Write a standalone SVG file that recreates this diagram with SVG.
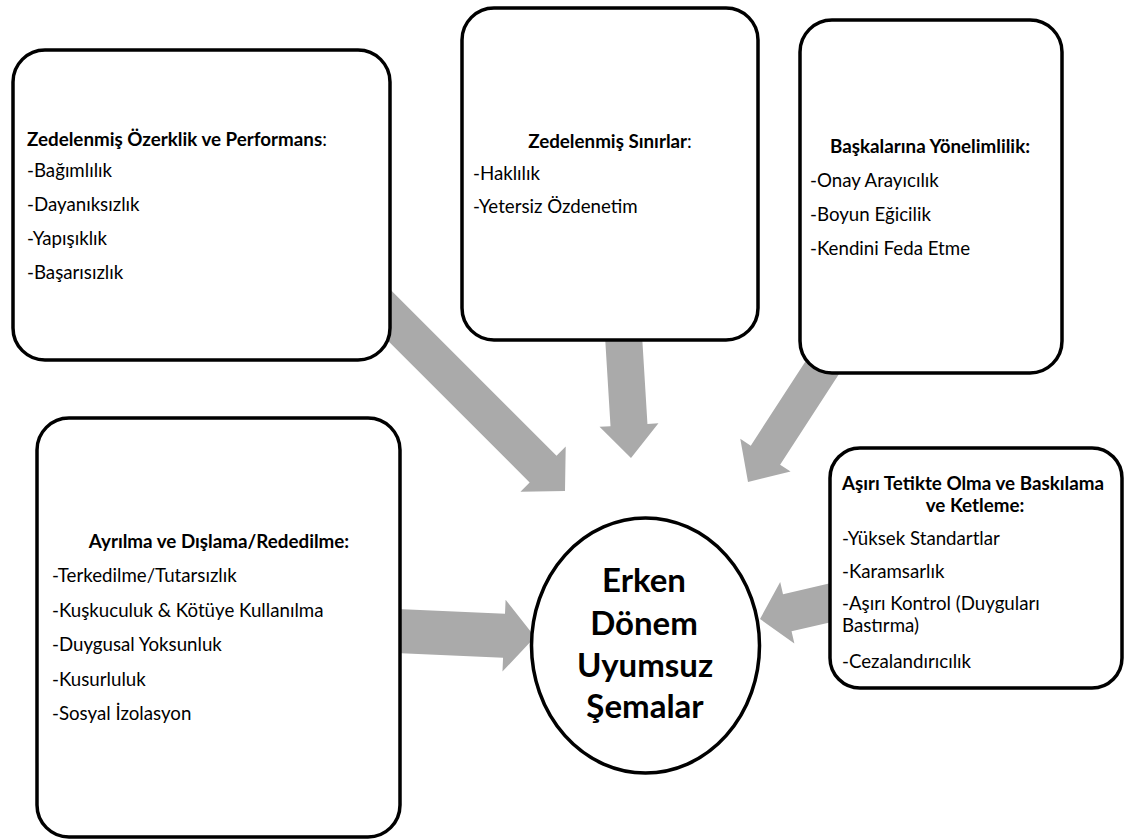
<svg xmlns="http://www.w3.org/2000/svg" width="1130" height="840" viewBox="0 0 1130 840">
<style>
.box{fill:#ffffff;stroke:#000000;stroke-width:3.5}
.arrow{fill:#aaaaaa;stroke:none}
text{font-family:Lato,"Open Sans","Liberation Sans",sans-serif;fill:#000000}
.t{font-size:18.8px;font-weight:bold}
.i{font-size:18.7px}
.c{font-size:33px;font-weight:bold;text-anchor:middle}
.m{text-anchor:middle}
.n{font-weight:normal}
</style>
<rect width="1130" height="840" fill="#ffffff"/>
<g id="connectors">
<polygon class="arrow" transform="translate(565,491) rotate(45)" points="0,0 -31,-32 -31,-19 -276,-19 -276,19 -31,19 -31,32"/>
<polygon class="arrow" transform="translate(631,458) rotate(86.5)" points="0,0 -33,-29.5 -33,-18.5 -135,-18.5 -135,18.5 -33,18.5 -33,29.5"/>
<polygon class="arrow" transform="translate(748,482) rotate(123)" points="0,0 -32,-30 -32,-17.5 -175,-17.5 -175,17.5 -32,17.5 -32,30"/>
<polygon class="arrow" transform="translate(535,637) rotate(2.5)" points="0,0 -31,-36 -31,-22 -150,-22 -150,22 -31,22 -31,36"/>
<polygon class="arrow" transform="translate(760,619) rotate(167)" points="0,0 -28,-31.5 -28,-19 -95,-19 -95,19 -28,19 -28,31.5"/>
</g>
<g id="node-ozerklik">
<rect class="box" x="13" y="50" width="377" height="310" rx="32"/>
<text class="t" x="27" y="146">Zedelenmiş Özerklik ve Performans<tspan class="n">:</tspan></text>
<text class="i" x="27" y="177">-Bağımlılık</text>
<text class="i" x="27" y="211">-Dayanıksızlık</text>
<text class="i" x="27" y="245">-Yapışıklık</text>
<text class="i" x="27" y="279">-Başarısızlık</text>
</g>
<g id="node-sinirlar">
<rect class="box" x="462" y="8" width="296" height="332" rx="32"/>
<text class="t m" x="610" y="148">Zedelenmiş Sınırlar<tspan class="n">:</tspan></text>
<text class="i" x="473" y="180">-Haklılık</text>
<text class="i" x="473" y="213">-Yetersiz Özdenetim</text>
</g>
<g id="node-yonelim">
<rect class="box" x="800" y="20" width="262" height="353" rx="32"/>
<text class="t m" x="930" y="153">Başkalarına Yönelimlilik:</text>
<text class="i" x="810" y="187">-Onay Arayıcılık</text>
<text class="i" x="810" y="221">-Boyun Eğicilik</text>
<text class="i" x="810" y="255">-Kendini Feda Etme</text>
</g>
<g id="node-ayrilma">
<rect class="box" x="37" y="418" width="363" height="419" rx="32"/>
<text class="t m" x="219" y="548">Ayrılma ve Dışlama/Rededilme:</text>
<text class="i" x="52" y="582">-Terkedilme/Tutarsızlık</text>
<text class="i" x="52" y="617">-Kuşkuculuk &amp; Kötüye Kullanılma</text>
<text class="i" x="52" y="651">-Duygusal Yoksunluk</text>
<text class="i" x="52" y="686">-Kusurluluk</text>
<text class="i" x="52" y="720">-Sosyal İzolasyon</text>
</g>
<g id="node-tetikte">
<rect class="box" x="830" y="448" width="292" height="240" rx="30"/>
<text class="t m" x="973" y="490">Aşırı Tetikte Olma ve Baskılama</text>
<text class="t m" x="975" y="512">ve Ketleme:</text>
<text class="i" x="842" y="545">-Yüksek Standartlar</text>
<text class="i" x="842" y="578">-Karamsarlık</text>
<text class="i" x="842" y="610">-Aşırı Kontrol (Duyguları</text>
<text class="i" x="842" y="632">Bastırma)</text>
<text class="i" x="842" y="668">-Cezalandırıcılık</text>
</g>
<g id="node-center">
<ellipse class="box" cx="645.5" cy="645.5" rx="114" ry="127.5"/>
<text class="c" x="644" y="592">Erken</text>
<text class="c" x="644" y="635">Dönem</text>
<text class="c" x="645" y="677">Uyumsuz</text>
<text class="c" x="645" y="718">Şemalar</text>
</g>
</svg>
